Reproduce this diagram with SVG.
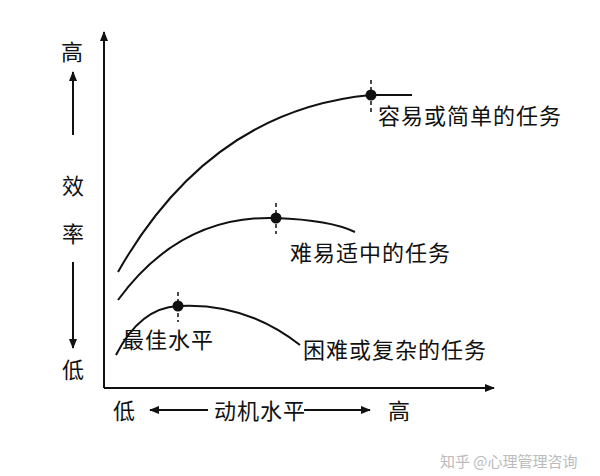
<svg xmlns="http://www.w3.org/2000/svg" width="600" height="476" viewBox="0 0 600 476">
<style>
.t{font-family:"Noto Sans CJK SC","Noto Sans",sans-serif;font-size:22px;fill:#111;letter-spacing:1px}
.ln{stroke:#111;stroke-width:2;fill:none}
.dash{stroke:#111;stroke-width:1.5;stroke-dasharray:4 3}
</style>
<defs>
<marker id="a" markerWidth="10" markerHeight="10" refX="9" refY="5" orient="auto" markerUnits="userSpaceOnUse">
<path d="M0,1 L10,5 L0,9 Z" fill="#111"/>
</marker>
</defs>
<rect width="600" height="476" fill="#fff"/>
<g id="axes">
<line class="ln" x1="104" y1="388" x2="104" y2="32" marker-end="url(#a)"/>
<line class="ln" x1="104" y1="388" x2="494" y2="388" marker-end="url(#a)"/>
</g>
<g id="connectors">
<line class="ln" x1="73" y1="135" x2="73" y2="72" marker-end="url(#a)"/>
<line class="ln" x1="73" y1="262" x2="73" y2="348" marker-end="url(#a)"/>
<line class="ln" x1="208" y1="410" x2="150" y2="410" marker-end="url(#a)"/>
<line class="ln" x1="304" y1="410" x2="370" y2="410" marker-end="url(#a)"/>
</g>
<g id="curve-easy">
<path class="ln" d="M118,272 Q210,110 371,95 L412,95"/>
<line class="dash" x1="371" y1="80" x2="371" y2="112"/>
<circle cx="371" cy="95" r="5.5" fill="#111"/>
<text class="t" x="378" y="124">容易或简单的任务</text>
</g>
<g id="curve-mid">
<path class="ln" d="M118,300 Q180,215 276,218 Q330,220 355,232"/>
<line class="dash" x1="276" y1="203" x2="276" y2="234"/>
<circle cx="276" cy="218" r="5.5" fill="#111"/>
<text class="t" x="290" y="261">难易适中的任务</text>
</g>
<g id="curve-hard">
<path class="ln" d="M116,355 Q140,308 178,306 Q245,302 300,345"/>
<line class="dash" x1="178" y1="292" x2="178" y2="322"/>
<circle cx="178" cy="306" r="5.5" fill="#111"/>
<text class="t" x="122" y="348">最佳水平</text>
<text class="t" x="303" y="358">困难或复杂的任务</text>
</g>
<g id="labels">
<text class="t" x="61" y="60">高</text>
<text class="t" x="62" y="194">效</text>
<text class="t" x="62" y="242">率</text>
<text class="t" x="62" y="378">低</text>
<text class="t" x="113" y="419">低</text>
<text class="t" x="214" y="419">动机水平</text>
<text class="t" x="388" y="419">高</text>
<text x="440" y="467" style="font-family:'Noto Sans CJK SC',sans-serif;font-size:15px;fill:#bbb">知乎 @心理管理咨询</text>
</g>
</svg>
